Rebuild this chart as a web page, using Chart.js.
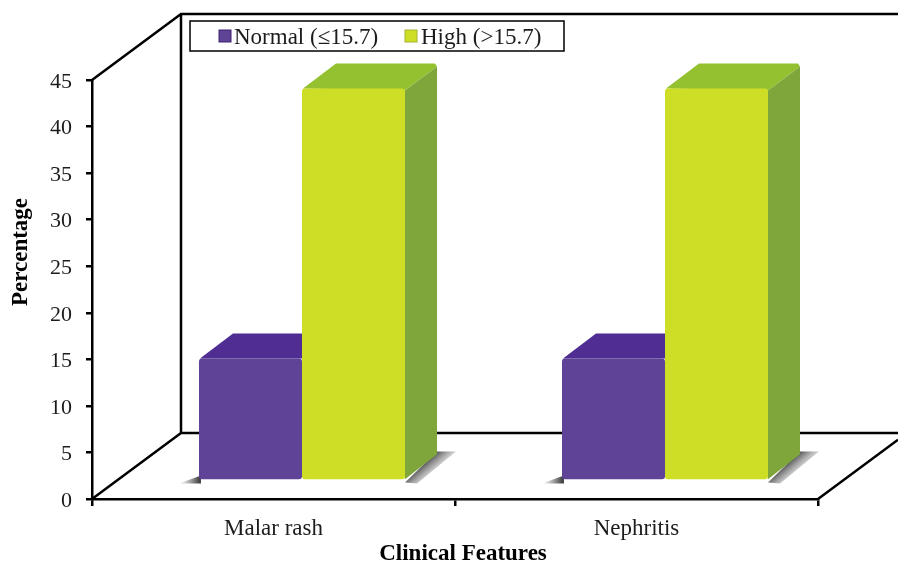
<!DOCTYPE html>
<html>
<head>
<meta charset="utf-8">
<title>Clinical Features</title>
<script src="https://cdn.jsdelivr.net/npm/chart.js@4"></script>
<style>
  body { margin: 0; background: #fff; }
  canvas { display: block; }
</style>
</head>
<body>
<canvas id="featureChart" width="898" height="563"></canvas>
<script>
const categories = ["Malar rash", "Nephritis"];
const normalValues = [13.1, 13.1];
const highValues = [42.1, 42.1];
const normalLabel = "Normal (≤15.7)";
const highLabel = "High (>15.7)";
const yTicks = [0, 5, 10, 15, 20, 25, 30, 35, 40, 45];

const SERIF = '"Liberation Serif", "Times New Roman", serif';
const INK = "#1c1c1c";

// box depth of the back wall and of the bars, in px
const wallDx = 89, wallDy = -66;
const barShiftX = 28.5, barShiftY = -18.5;
const depthX = 32, depthY = -25;

function drawPoly(ctx, pts, fill) {
    ctx.beginPath();
    pts.forEach((p, i) => i ? ctx.lineTo(p[0], p[1]) : ctx.moveTo(p[0], p[1]));
    ctx.closePath();
    ctx.fillStyle = fill;
    ctx.fill();
}

// frame of the box plus the legend and both axis titles
const boxFrame = {
    id: "boxFrame",
    beforeDraw(chart) {
        // nudge the y labels down so the digits centre on their ticks
        const yScale = chart.scales.y;
        yScale.getLabelItems().forEach(item => {
            if (!item.nudged) {
                item.textOffset += 2;
                item.nudged = true;
            }
        });
    },
    beforeDatasetsDraw(chart) {
        const { ctx, scales: { x, y } } = chart;
        const l = x.left, r = x.right, b = y.bottom, t = y.top;
        const right = chart.width;
        const sideSlope = wallDy / wallDx;

        ctx.save();
        ctx.strokeStyle = "#000";
        ctx.lineWidth = 2.5;
        ctx.beginPath();
        ctx.moveTo(l, t); ctx.lineTo(l + wallDx, t + wallDy);
        ctx.lineTo(right, t + wallDy);
        ctx.moveTo(l + wallDx, t + wallDy); ctx.lineTo(l + wallDx, b + wallDy);
        ctx.lineTo(right, b + wallDy);
        ctx.moveTo(l, b); ctx.lineTo(l + wallDx, b + wallDy);
        ctx.moveTo(r, b); ctx.lineTo(right, b + (right - r) * sideSlope);
        ctx.stroke();

        // soft floor shadows either side of each bar pair
        const base = b + barShiftY;
        chart.getDatasetMeta(0).data.forEach((bar, i) => {
            const hi = chart.getDatasetMeta(1).data[i];
            const left = bar.x - bar.width / 2 + barShiftX;
            const edge = hi.x + hi.width / 2 + barShiftX;

            const gl = ctx.createLinearGradient(left - 20, 0, left, 0);
            gl.addColorStop(0, "rgba(120,120,120,0)");
            gl.addColorStop(1, "rgba(70,70,70,1)");
            drawPoly(ctx, [[left + 2, base - 5], [left + 2, base + 3], [left - 20, base + 3]], gl);

            // fades away from the side face, across its bottom edge
            const gr = ctx.createLinearGradient(edge + 16, base - 14, edge + 30, base + 2);
            gr.addColorStop(0, "rgba(90,90,90,1)");
            gr.addColorStop(1, "rgba(200,200,200,0)");
            drawPoly(ctx, [[edge, base + 2], [edge + depthX, base - 29],
                [edge + depthX + 19, base - 29], [edge + 12, base + 3]], gr);
        });

        // legend
        const lx = 190, ly = 21, lw = 374, lh = 30;
        ctx.fillStyle = "#fff";
        ctx.fillRect(lx, ly, lw, lh);
        ctx.strokeStyle = "#000";
        ctx.lineWidth = 1.5;
        ctx.strokeRect(lx, ly, lw, lh);

        const entries = [
            { ds: chart.data.datasets[0], mark: 219, text: 234, edge: "#41236f" },
            { ds: chart.data.datasets[1], mark: 405, text: 421, edge: "#a3b52a" }
        ];
        ctx.font = "23px " + SERIF;
        ctx.textBaseline = "middle";
        ctx.textAlign = "left";
        entries.forEach(e => {
            ctx.fillStyle = e.ds.backgroundColor;
            ctx.fillRect(e.mark, 30, 12, 12);
            ctx.strokeStyle = e.edge;
            ctx.lineWidth = 1;
            ctx.strokeRect(e.mark, 30, 12, 12);
            ctx.fillStyle = INK;
            ctx.fillText(e.ds.label, e.text, 38);
        });

        // axis titles sit off the axis centres
        ctx.font = "bold 23px " + SERIF;
        ctx.textAlign = "center";
        ctx.fillStyle = "#000";
        ctx.fillText("Clinical Features", (l + r) / 2 + 8, 554);
        ctx.translate(21, 252);
        ctx.rotate(-Math.PI / 2);
        ctx.fillText("Percentage", 0, 0);
        ctx.restore();
    },
    // bars live further into the box than the axis plane
    beforeDatasetDraw(chart, args) {
        const { ctx } = chart;
        ctx.save();
        ctx.translate(barShiftX, barShiftY);
        args.meta.data.forEach(bar => {
            const l = bar.x - bar.width / 2, r = bar.x + bar.width / 2;
            const top = bar.y, base = bar.base;
            if (args.index === 0) {
                // the taller neighbour hides everything past the right edge
                drawPoly(ctx, [[l + 1, top], [l + depthX + 2, top + depthY], [r, top + depthY], [r, top]], "#4f2d92");
            } else {
                drawPoly(ctx, [[l + 1, top], [l + depthX + 2, top + depthY], [r + depthX - 2, top + depthY],
                    [r + depthX, top + depthY + 3], [r, top + 2]], "#94c130");
                drawPoly(ctx, [[r, top + 2], [r + depthX, top + depthY + 3], [r + depthX, base + depthY], [r, base]], "#7fa63b");
            }
        });
    },
    afterDatasetDraw(chart) {
        chart.ctx.restore();
    }
};

const ctx = document.getElementById("featureChart").getContext("2d");
new Chart(ctx, {
    type: "bar",
    data: {
        labels: categories,
        datasets: [
            { label: normalLabel, data: normalValues, backgroundColor: "#5f4397" },
            { label: highLabel, data: highValues, backgroundColor: "#cedd26" }
        ]
    },
    plugins: [boxFrame],
    options: {
        responsive: false,
        animation: false,
        layout: { padding: { top: 80, right: 80, bottom: 0, left: 0 } },
        datasets: {
            bar: { categoryPercentage: 0.5675, barPercentage: 1, borderRadius: 3, borderSkipped: false }
        },
        plugins: {
            legend: { display: false },
            tooltip: { enabled: false }
        },
        scales: {
            x: {
                afterFit(scale) { scale.height = 64; },
                grid: { offset: true, drawOnChartArea: false, color: "#000", lineWidth: 2.5, tickLength: 7, tickColor: "#000" },
                border: { color: "#000", width: 2.5 },
                ticks: { color: INK, padding: 9, font: { family: SERIF, size: 23 }, maxRotation: 0 }
            },
            y: {
                min: yTicks[0],
                max: yTicks[yTicks.length - 1],
                afterFit(scale) { scale.width = 92; },
                afterBuildTicks(scale) { scale.ticks = yTicks.map(v => ({ value: v })); },
                grid: { drawOnChartArea: false, color: "#000", lineWidth: 2.5, tickLength: 6, tickColor: "#000" },
                border: { color: "#000", width: 2.5 },
                ticks: { color: INK, padding: 14, font: { family: SERIF, size: 22 } }
            }
        }
    }
});
</script>
</body>
</html>
